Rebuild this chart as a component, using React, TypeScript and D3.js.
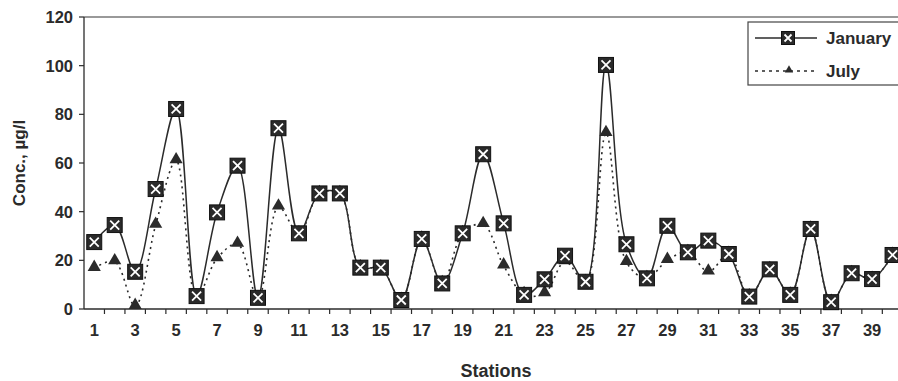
import React, { useEffect, useRef } from 'react';
import * as d3 from 'd3';

// stations 1..40
const stations = d3.range(1, 41).map(String);

// concentrations, µg/l
const january = [27.5, 34.5, 15.3, 49.3, 82.2, 5.3, 39.7, 58.9, 4.6, 74.3,
  31.1, 47.5, 47.5, 17, 17, 3.7, 28.8, 10.5, 31.1, 63.6,
  35.2, 5.8, 12.2, 21.9, 11.2, 100.3, 26.6, 12.6, 34.2, 23.3,
  28.1, 22.6, 5.1, 16.3, 5.8, 32.9, 2.8, 14.7, 12.3, 22.2];
const july = [16.8, 19.5, 1.2, 34.5, 61, 5, 20.8, 26.7, 4.2, 42,
  31, 47.5, 47.5, 17, 17, 3.7, 28.8, 10.5, 31.1, 34.8,
  17.8, 6, 6.4, 19.5, 11, 72.2, 19.2, 12.6, 20.1, 23.3,
  15.3, 22.6, 5.1, 16.3, 5.8, 32.9, 2.8, 14.7, 12.3, 22.2];

const yTicks = [0, 20, 40, 60, 80, 100, 120];
const xLabels = stations.filter((s) => +s % 2 === 1);

const W = 898;
const H = 381;
const FONT = 'Liberation Sans, Arial, sans-serif';
const INK = '#2b2b2b';

export default function App() {
  const ref = useRef<SVGSVGElement>(null);

  useEffect(() => {
    const svg = d3.select(ref.current);
    svg.selectAll('*').remove();

    const left = 84, top = 17, bottom = 309;
    const x = d3.scaleBand().domain(stations).range([left, left + 40 * 20.47]);
    const y = d3.scaleLinear().domain([0, 120]).range([bottom, top]);
    const cx = (s: string) => (x(s) as number) + x.bandwidth() / 2;

    // plot area top border
    svg.append('line')
      .attr('x1', left).attr('x2', W).attr('y1', top).attr('y2', top)
      .attr('stroke', '#777').attr('stroke-width', 1.5);

    // y axis
    svg.append('line')
      .attr('x1', left).attr('x2', left).attr('y1', top).attr('y2', bottom)
      .attr('stroke', INK).attr('stroke-width', 1.3);
    const yg = svg.append('g');
    yg.selectAll('line').data(yTicks).enter().append('line')
      .attr('x1', left - 5).attr('x2', left)
      .attr('y1', (d) => y(d)).attr('y2', (d) => y(d))
      .attr('stroke', INK).attr('stroke-width', 1.2);
    yg.selectAll('text').data(yTicks).enter().append('text')
      .attr('x', left - 11).attr('y', (d) => y(d) + 6)
      .attr('text-anchor', 'end')
      .style('font', `bold 16.5px ${FONT}`).attr('fill', INK)
      .text((d) => d);

    // x axis, ticks between categories
    svg.append('line')
      .attr('x1', left).attr('x2', W).attr('y1', bottom).attr('y2', bottom)
      .attr('stroke', INK).attr('stroke-width', 1.3);
    const xg = svg.append('g');
    xg.selectAll('line').data(stations).enter().append('line')
      .attr('x1', (d) => (x(d) as number) + x.bandwidth())
      .attr('x2', (d) => (x(d) as number) + x.bandwidth())
      .attr('y1', bottom).attr('y2', bottom + 5)
      .attr('stroke', INK).attr('stroke-width', 1.2);
    xg.selectAll('text').data(xLabels).enter().append('text')
      .attr('x', (d) => cx(d)).attr('y', bottom + 27)
      .attr('text-anchor', 'middle')
      .style('font', `bold 16.5px ${FONT}`).attr('fill', INK)
      .text((d) => d);

    // axis titles
    svg.append('text')
      .attr('x', 496).attr('y', 377)
      .attr('text-anchor', 'middle')
      .style('font', `bold 18px ${FONT}`).attr('fill', INK)
      .text('Stations');
    svg.append('text')
      .attr('transform', `translate(25,${(top + bottom) / 2}) rotate(-90)`)
      .attr('text-anchor', 'middle')
      .style('font', `bold 17px ${FONT}`).attr('fill', INK)
      .text('Conc., µg/l');

    const line = d3.line<number>()
      .x((_, i) => cx(stations[i]))
      .y((d) => y(d))
      .curve(d3.curveCatmullRom.alpha(0.5));

    // July (dotted, triangles)
    svg.append('path')
      .attr('d', line(july))
      .attr('fill', 'none').attr('stroke', INK)
      .attr('stroke-width', 1.6).attr('stroke-dasharray', '2,4');

    // January (solid, boxed crosses)
    svg.append('path')
      .attr('d', line(january))
      .attr('fill', 'none').attr('stroke', INK).attr('stroke-width', 1.5);

    const tri = d3.symbol().type(d3.symbolTriangle).size(75);
    svg.append('g').selectAll('path').data(july).enter().append('path')
      .attr('d', tri)
      .attr('transform', (d, i) => `translate(${cx(stations[i])},${y(d) - 1})`)
      .attr('fill', INK);

    const drawBox = (g: any, px: number, py: number, s: number) => {
      g.append('rect')
        .attr('x', px - s / 2).attr('y', py - s / 2).attr('width', s).attr('height', s)
        .attr('fill', '#2a2a2a').attr('stroke', '#111').attr('stroke-width', 1);
      const k = s / 2 - 3;
      g.append('path')
        .attr('d', `M${px - k},${py - k}L${px + k},${py + k}M${px + k},${py - k}L${px - k},${py + k}`)
        .attr('stroke', '#fff').attr('stroke-width', 1.8);
    };
    const jg = svg.append('g');
    january.forEach((d, i) => drawBox(jg, cx(stations[i]), y(d), 15));

    // legend
    const lg = svg.append('g');
    lg.append('rect')
      .attr('x', 748).attr('y', 22).attr('width', 170).attr('height', 63)
      .attr('fill', '#fff').attr('stroke', '#444').attr('stroke-width', 1.2);
    lg.append('line')
      .attr('x1', 755).attr('x2', 817).attr('y1', 38).attr('y2', 38)
      .attr('stroke', INK).attr('stroke-width', 1.5);
    drawBox(lg, 788, 38, 13);
    lg.append('text')
      .attr('x', 826).attr('y', 44)
      .style('font', `bold 17px ${FONT}`).attr('fill', INK)
      .text('January');
    lg.append('line')
      .attr('x1', 755).attr('x2', 818).attr('y1', 71).attr('y2', 71)
      .attr('stroke', INK).attr('stroke-width', 1.6).attr('stroke-dasharray', '3,4');
    lg.append('path')
      .attr('d', d3.symbol().type(d3.symbolTriangle).size(30))
      .attr('transform', 'translate(789,70)')
      .attr('fill', INK);
    lg.append('text')
      .attr('x', 826).attr('y', 77)
      .style('font', `bold 17px ${FONT}`).attr('fill', INK)
      .text('July');
  }, []);

  return (
    <svg ref={ref} width={W} height={H}
      style={{ position: 'absolute', left: 0, top: 0, background: '#fff' }} />
  );
}
